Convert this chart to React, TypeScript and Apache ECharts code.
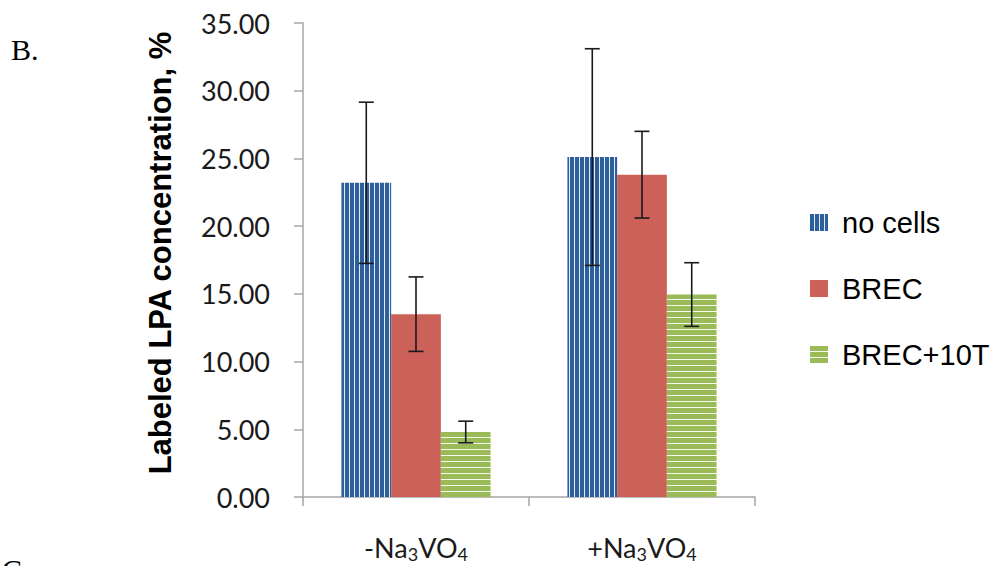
import React, { useEffect, useRef } from "react";
import * as echarts from "echarts";

const categories = ["-Na3VO4", "+Na3VO4"];
const seriesNames = ["no cells", "BREC", "BREC+10T"];
const noCells = [23.2, 25.1];
const brec = [13.5, 23.8];
const brec10T = [4.8, 14.95];
const noCellsErr = [5.95, 8.0];
const brecErr = [2.75, 3.2];
const brec10TErr = [0.8, 2.35];
const yTicks = { min: 0, max: 35, interval: 5 };

function stripe(w: number, h: number, base: string, line: string, vertical: boolean, lineSize: number) {
  const c = document.createElement("canvas");
  c.width = w;
  c.height = h;
  const ctx = c.getContext("2d")!;
  ctx.fillStyle = base;
  ctx.fillRect(0, 0, w, h);
  ctx.fillStyle = line;
  if (vertical) ctx.fillRect(w - lineSize, 0, lineSize, h);
  else ctx.fillRect(0, h - lineSize, w, lineSize);
  return { image: c.toDataURL(), repeat: "repeat", imageWidth: w, imageHeight: h } as any;
}

export default function App() {
  const ref = useRef<HTMLDivElement>(null);
  useEffect(() => {
    if (!ref.current) return;
    const chart = echarts.init(ref.current, undefined, { renderer: "svg" });
    const bluePat = stripe(5, 4, "#2C5F9C", "#E4ECF6", true, 1);
    const greenPat = stripe(4, 6, "#9BBB59", "#F4F8EC", false, 1);
    const red = "#CB6159";
    const values = [noCells, brec, brec10T];
    const errs = [noCellsErr, brecErr, brec10TErr];
    const errData: number[][] = [];
    values.forEach((arr, s) =>
      arr.forEach((v, c) => errData.push([c, v - errs[s][c], v + errs[s][c], s]))
    );
    const sub = { fontSize: 18, fontFamily: "Lato", color: "#1a1a1a", padding: [14, 0, 0, 0] };
    const main = { fontSize: 27, fontFamily: "Lato", color: "#1a1a1a" };
    chart.setOption({
      animation: false,
      backgroundColor: "#ffffff",
      grid: { left: 303, right: 240, top: 23, bottom: 69, containLabel: false },
      legend: {
        orient: "vertical",
        left: 805,
        top: 203,
        itemWidth: 18,
        itemHeight: 17,
        itemGap: 37,
        icon: "rect",
        data: seriesNames,
        textStyle: {
          fontSize: 29,
          fontFamily: "Liberation Sans",
          color: "#000",
          padding: [0, 0, 0, 9],
          lineHeight: 24,
        },
        selectedMode: false,
      },
      xAxis: {
        type: "category",
        data: categories,
        axisLine: { lineStyle: { color: "#A6A6A6", width: 1.5 } },
        axisTick: { show: true, length: 9, lineStyle: { color: "#A6A6A6", width: 1.5 } },
        axisLabel: {
          margin: 34,
          formatter: (v: string) => {
            const m = v.match(/^([+-]Na)3(VO)4$/);
            if (!m) return v;
            return `{m|${m[1]}}{s|3}{m|${m[2]}}{s|4}`;
          },
          rich: { m: main, s: sub },
        },
      },
      yAxis: {
        type: "value",
        min: yTicks.min,
        max: yTicks.max,
        interval: yTicks.interval,
        axisLine: { show: true, lineStyle: { color: "#A6A6A6", width: 1.5 } },
        axisTick: { show: true, length: 9, lineStyle: { color: "#A6A6A6", width: 1.5 } },
        splitLine: { show: false },
        axisLabel: {
          margin: 33,
          fontSize: 27,
          fontFamily: "Lato",
          color: "#1a1a1a",
          padding: [8, 0, 0, 0],
          formatter: (v: number) => v.toFixed(2),
        },
      },
      graphic: [
        {
          type: "text",
          x: 160.5,
          y: 253,
          rotation: Math.PI / 2,
          style: {
            text: "Labeled LPA concentration, %",
            font: "bold 31px 'Liberation Sans', Arial, sans-serif",
            fill: "#000",
            align: "center",
            verticalAlign: "middle",
          },
        },
        {
          type: "text",
          x: 11,
          y: 49,
          style: {
            text: "B.",
            font: "30px 'Liberation Serif', 'Times New Roman', serif",
            fill: "#000",
            align: "left",
            verticalAlign: "middle",
          },
        },
        {
          type: "text",
          x: 2,
          y: 569,
          style: {
            text: "C.",
            font: "30px 'Liberation Serif', 'Times New Roman', serif",
            fill: "#000",
            align: "left",
            verticalAlign: "middle",
          },
        },
      ],
      series: [
        {
          name: seriesNames[0],
          type: "bar",
          data: noCells,
          barGap: "0%",
          barCategoryGap: "34%",
          itemStyle: { color: bluePat },
        },
        {
          name: seriesNames[1],
          type: "bar",
          data: brec,
          barGap: "0%",
          barCategoryGap: "34%",
          itemStyle: { color: red },
        },
        {
          name: seriesNames[2],
          type: "bar",
          data: brec10T,
          barGap: "0%",
          barCategoryGap: "34%",
          itemStyle: { color: greenPat },
        },
        {
          type: "custom",
          name: "err",
          data: errData,
          encode: { x: 0, y: [1, 2] },
          z: 10,
          renderItem: (params: any, api: any) => {
            const c = api.value(0);
            const lo = api.value(1);
            const hi = api.value(2);
            const s = api.value(3);
            const bw = api.size([1, 0])[0];
            const barW = (bw * 0.66) / 3;
            const p1 = api.coord([c, lo]);
            const p2 = api.coord([c, hi]);
            const x = p1[0] + (s - 1) * barW;
            const hw = 7.5;
            const st = { stroke: "#1a1a1a", lineWidth: 1.6 };
            return {
              type: "group",
              children: [
                { type: "line", shape: { x1: x, y1: p1[1], x2: x, y2: p2[1] }, style: st },
                { type: "line", shape: { x1: x - hw, y1: p1[1], x2: x + hw, y2: p1[1] }, style: st },
                { type: "line", shape: { x1: x - hw, y1: p2[1], x2: x + hw, y2: p2[1] }, style: st },
              ],
            };
          },
        },
      ],
    });
    return () => chart.dispose();
  }, []);
  return (
    <div
      ref={ref}
      style={{ position: "absolute", left: 0, top: 0, width: 995, height: 566 }}
    />
  );
}
